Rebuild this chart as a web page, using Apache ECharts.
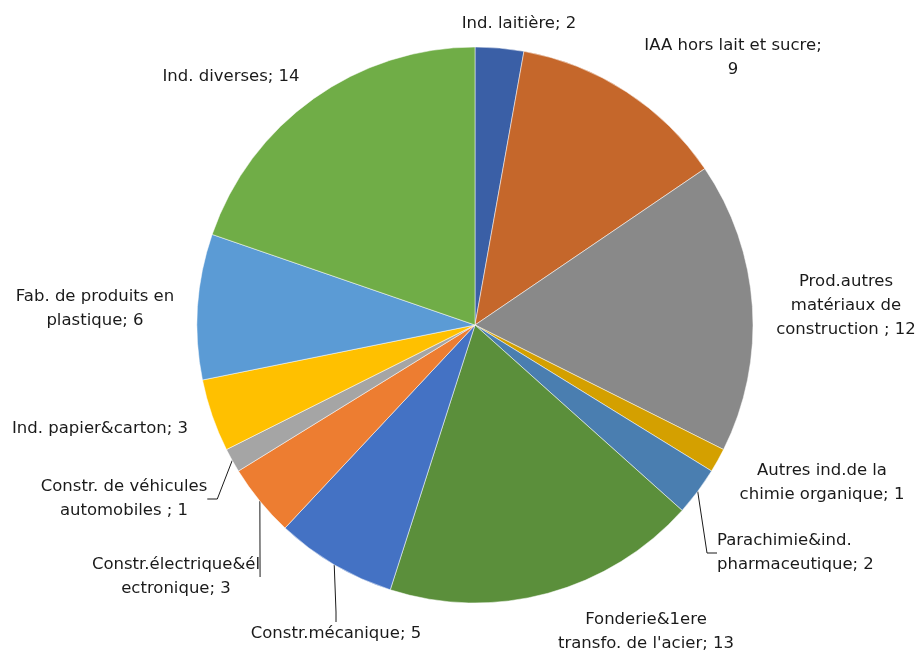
<!DOCTYPE html>
<html><head><meta charset="utf-8">
<script src="https://cdn.jsdelivr.net/npm/echarts@6/dist/echarts.min.js"></script>
<style>html,body{margin:0;padding:0;background:#fff}#c{width:919px;height:657px}</style>
</head><body><div id="c"></div>
<script>
const categories = [
  "Ind. laitière", "IAA hors lait et sucre", "Prod.autres matériaux de construction",
  "Autres ind.de la chimie organique", "Parachimie&ind. pharmaceutique",
  "Fonderie&1ere transfo. de l'acier", "Constr.mécanique", "Constr.électrique&électronique",
  "Constr. de véhicules automobiles", "Ind. papier&carton", "Fab. de produits en plastique",
  "Ind. diverses"
];
const values = [2, 9, 12, 1, 2, 13, 5, 3, 1, 3, 6, 14];
const labelTexts = [
  "Ind. laitière; 2", "IAA hors lait et sucre;\n9", "Prod.autres\nmatériaux de\nconstruction ; 12",
  "Autres ind.de la\nchimie organique; 1", "Parachimie&ind.\npharmaceutique; 2",
  "Fonderie&1ere\ntransfo. de l'acier; 13", "Constr.mécanique; 5", "Constr.électrique&él\nectronique; 3",
  "Constr. de véhicules\nautomobiles ; 1", "Ind. papier&carton; 3", "Fab. de produits en\nplastique; 6",
  "Ind. diverses; 14"
];
const colors = ["#3A5FA6", "#C5672B", "#898989", "#D4A000", "#4A7EB0", "#5B8F3B",
                "#4472C4", "#ED7D31", "#A5A5A5", "#FFC000", "#5B9BD5", "#70AD47"];
const withLine = [false, false, false, false, true, false, true, true, true, false, false, false];
// label block centres (x, y) and alignment
const labelPos = [
  [519, 24, 'center'], [733, 58, 'center'], [846, 306, 'center'], [822, 483, 'center'],
  [717, 553, 'left'], [646, 632, 'center'], [336, 634, 'center'], [176, 577, 'center'],
  [124, 499, 'center'], [100, 429, 'center'], [95, 309, 'center'], [231, 77, 'center']
];

const chart = echarts.init(document.getElementById('c'));
chart.setOption({
  animation: false,
  series: [{
    type: 'pie',
    center: [475, 325],
    radius: 278,
    startAngle: 90,
    clockwise: true,
    avoidLabelOverlap: false,
    itemStyle: { borderColor: '#ffffff', borderWidth: 0.5 },
    label: {
      show: true,
      position: 'outside',
      fontFamily: 'DejaVu Sans',
      fontSize: 16.5,
      lineHeight: 24,
      color: '#1a1a1a',
      align: 'center'
    },
    labelLine: { show: false, lineStyle: { color: '#1a1a1a', width: 1 }, length: 10, length2: 10 },
    labelLayout: function (p) {
      const lp = labelPos[p.dataIndex];
      return { x: lp[0], y: lp[1], align: lp[2], verticalAlign: 'middle', hideOverlap: false };
    },
    data: categories.map((c, i) => ({
      name: c,
      value: values[i],
      itemStyle: { color: colors[i] },
      label: { formatter: labelTexts[i], align: labelPos[i][2] },
      labelLine: { show: withLine[i] }
    }))
  }]
});
</script></body></html>
